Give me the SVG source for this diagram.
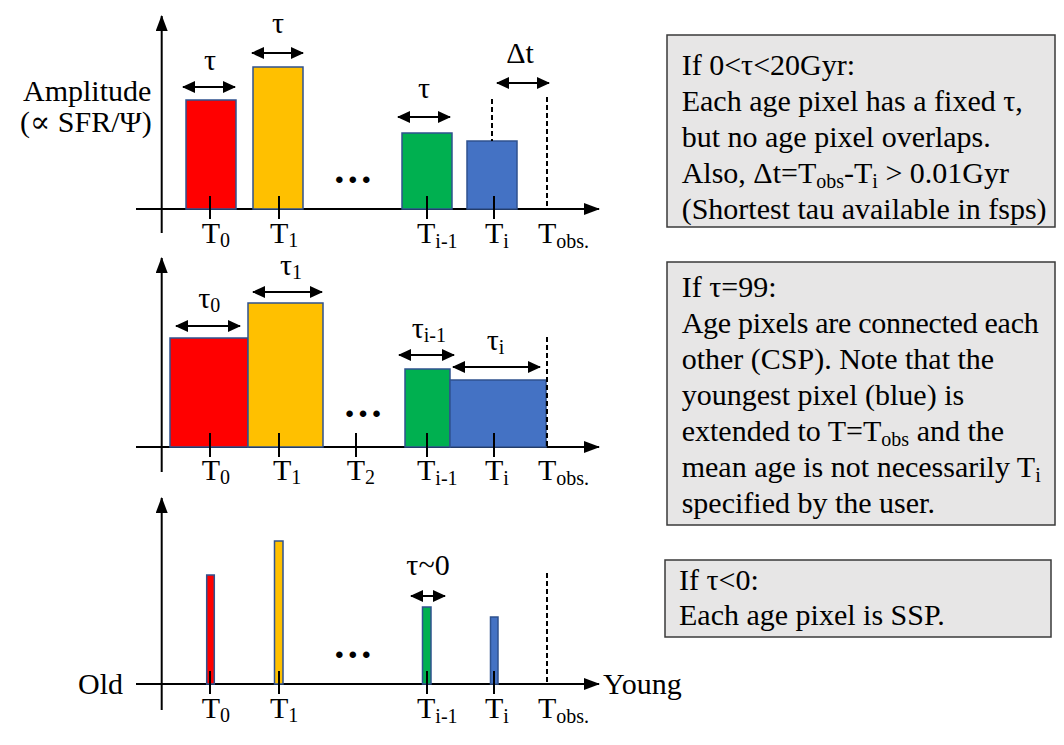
<svg xmlns="http://www.w3.org/2000/svg" width="1064" height="745" viewBox="0 0 1064 745">
<style>
text{font-family:"Liberation Serif","DejaVu Serif",serif;font-size:30px;fill:#000}
.sub{font-size:20px}
.dots{font-size:40px;font-weight:bold}
.axis{stroke:#000;stroke-width:2;fill:none}
.dbl{stroke:#000;stroke-width:2;fill:none;marker-start:url(#ah);marker-end:url(#ah)}
.tick{stroke:#000;stroke-width:2}
.dash{stroke:#000;stroke-width:2;stroke-dasharray:5 3}
.bar{stroke:#2F528F;stroke-width:1.5}
.red{fill:#FF0000}.yel{fill:#FFC000}.grn{fill:#00B050}.blu{fill:#4472C4}
.box{fill:#E7E6E6;stroke:#3A3A3A;stroke-width:1.5}
</style>
<defs>
<marker id="ax" markerUnits="userSpaceOnUse" markerWidth="16" markerHeight="12" refX="15" refY="6" orient="auto"><path d="M0,0 L16,6 L0,12 Z" fill="#000"/></marker>
<marker id="ah" markerUnits="userSpaceOnUse" markerWidth="13" markerHeight="12" refX="12" refY="6" orient="auto-start-reverse"><path d="M0,0 L13,6 L0,12 Z" fill="#000"/></marker>
</defs>
<rect width="1064" height="745" fill="#fff"/>

<g id="panel-top">
<g id="top-axes">
<line class="axis" x1="161.7" y1="233" x2="161.7" y2="16" marker-end="url(#ax)"/>
<line class="axis" x1="136" y1="209" x2="599" y2="209" marker-end="url(#ax)"/>
</g>
<g id="top-bar-red"><rect class="bar red" x="186" y="100" width="50" height="109"/></g>
<g id="top-bar-yellow"><rect class="bar yel" x="253" y="67" width="50" height="142"/></g>
<g id="top-bar-green"><rect class="bar grn" x="402" y="133" width="50" height="76"/></g>
<g id="top-bar-blue"><rect class="bar blu" x="467" y="141" width="50" height="68"/></g>
<g id="top-ticks">
<line class="tick" x1="210" y1="196" x2="210" y2="219"/>
<line class="tick" x1="279" y1="196" x2="279" y2="219"/>
<line class="tick" x1="427" y1="196" x2="427" y2="219"/>
<line class="tick" x1="494" y1="196" x2="494" y2="219"/>
<line class="dash" x1="492" y1="99" x2="492" y2="141"/>
<line class="dash" x1="547" y1="97" x2="547" y2="209"/>
</g>
<g id="top-arrows">
<line class="dbl" x1="183" y1="87" x2="235" y2="87"/>
<line class="dbl" x1="252" y1="53" x2="303" y2="53"/>
<line class="dbl" x1="398" y1="117" x2="450" y2="117"/>
<line class="dbl" x1="497" y1="83" x2="549" y2="83"/>
</g>
<g id="top-labels">
<text x="210" y="70" text-anchor="middle">τ</text>
<text x="278" y="33" text-anchor="middle">τ</text>
<text x="424" y="98" text-anchor="middle">τ</text>
<text x="520" y="63" text-anchor="middle" font-size="32">Δt</text>
<text class="dots" x="352.7" y="183" text-anchor="middle">…</text>
<text x="23" y="101">Amplitude</text>
<text x="20" y="132">(∝ SFR/Ψ)</text>
<text x="201.7" y="243">T<tspan class="sub" dy="4">0</tspan></text>
<text x="270" y="243">T<tspan class="sub" dy="4">1</tspan></text>
<text x="417" y="243">T<tspan class="sub" dy="5">i-1</tspan></text>
<text x="485" y="243">T<tspan class="sub" dy="5">i</tspan></text>
<text x="538" y="243">T<tspan class="sub" dy="5">obs.</tspan></text>
</g>
</g>

<g id="panel-middle">
<g id="mid-axes">
<line class="axis" x1="161.7" y1="472" x2="161.7" y2="258" marker-end="url(#ax)"/>
<line class="axis" x1="136" y1="447" x2="599" y2="447" marker-end="url(#ax)"/>
</g>
<g id="mid-bar-red"><rect class="bar red" x="170" y="338" width="78" height="109"/></g>
<g id="mid-bar-yellow"><rect class="bar yel" x="248" y="303" width="75" height="144"/></g>
<g id="mid-bar-green"><rect class="bar grn" x="405" y="369" width="45" height="78"/></g>
<g id="mid-bar-blue"><rect class="bar blu" x="450" y="380" width="96" height="67"/></g>
<g id="mid-ticks">
<line class="tick" x1="210" y1="433" x2="210" y2="457"/>
<line class="tick" x1="279" y1="433" x2="279" y2="457"/>
<line class="tick" x1="356" y1="433" x2="356" y2="457"/>
<line class="tick" x1="427" y1="433" x2="427" y2="457"/>
<line class="tick" x1="494" y1="433" x2="494" y2="457"/>
<line class="dash" x1="547" y1="337" x2="547" y2="447"/>
</g>
<g id="mid-arrows">
<line class="dbl" x1="176" y1="326" x2="240" y2="326"/>
<line class="dbl" x1="253" y1="292" x2="322" y2="292"/>
<line class="dbl" x1="399" y1="355" x2="454" y2="355"/>
<line class="dbl" x1="453" y1="367" x2="540" y2="367"/>
</g>
<g id="mid-labels">
<text x="198.3" y="308">τ<tspan class="sub" dy="4">0</tspan></text>
<text x="280" y="275">τ<tspan class="sub" dy="4">1</tspan></text>
<text x="411.7" y="338">τ<tspan class="sub" dy="4">i-1</tspan></text>
<text x="486.7" y="350">τ<tspan class="sub" dy="4">i</tspan></text>
<text class="dots" x="363" y="417" text-anchor="middle">…</text>
<text x="201.7" y="480">T<tspan class="sub" dy="4">0</tspan></text>
<text x="273" y="480">T<tspan class="sub" dy="4">1</tspan></text>
<text x="346.7" y="480">T<tspan class="sub" dy="4">2</tspan></text>
<text x="417" y="480">T<tspan class="sub" dy="5">i-1</tspan></text>
<text x="485" y="480">T<tspan class="sub" dy="5">i</tspan></text>
<text x="538" y="480">T<tspan class="sub" dy="5">obs.</tspan></text>
</g>
</g>

<g id="panel-bottom">
<g id="bot-axes">
<line class="axis" x1="161.7" y1="710" x2="161.7" y2="498" marker-end="url(#ax)"/>
<line class="axis" x1="136" y1="684" x2="599" y2="684" marker-end="url(#ax)"/>
</g>
<g id="bot-bar-red"><rect class="bar red" x="206.7" y="575" width="7.6" height="109"/></g>
<g id="bot-bar-yellow"><rect class="bar yel" x="274.5" y="541" width="8.5" height="143"/></g>
<g id="bot-bar-green"><rect class="bar grn" x="422.5" y="607" width="8.5" height="77"/></g>
<g id="bot-bar-blue"><rect class="bar blu" x="490.5" y="617" width="7.5" height="67"/></g>
<g id="bot-ticks">
<line class="tick" x1="210" y1="671" x2="210" y2="694"/>
<line class="tick" x1="279" y1="671" x2="279" y2="694"/>
<line class="tick" x1="427" y1="671" x2="427" y2="694"/>
<line class="tick" x1="494" y1="671" x2="494" y2="694"/>
<line class="dash" x1="547" y1="573" x2="547" y2="684"/>
</g>
<g id="bot-arrows">
<line class="dbl" x1="411" y1="596" x2="445" y2="596"/>
</g>
<g id="bot-labels">
<text x="428" y="575" text-anchor="middle">τ~0</text>
<text class="dots" x="352.7" y="658" text-anchor="middle">…</text>
<text x="123" y="694" text-anchor="end">Old</text>
<text x="603" y="694">Young</text>
<text x="201.7" y="718">T<tspan class="sub" dy="4">0</tspan></text>
<text x="270" y="718">T<tspan class="sub" dy="4">1</tspan></text>
<text x="417" y="718">T<tspan class="sub" dy="5">i-1</tspan></text>
<text x="485" y="718">T<tspan class="sub" dy="5">i</tspan></text>
<text x="538" y="718">T<tspan class="sub" dy="5">obs.</tspan></text>
</g>
</g>

<g id="box-tau-positive">
<rect class="box" x="667" y="35" width="388" height="192"/>
<text x="681.7" y="75">If 0&lt;τ&lt;20Gyr:</text>
<text x="681.7" y="111">Each age pixel has a fixed τ,</text>
<text x="681.7" y="147">but no age pixel overlaps.</text>
<text x="681.7" y="183">Also, Δt=T<tspan class="sub" dy="5">obs</tspan><tspan dy="-5">-T</tspan><tspan class="sub" dy="5">i</tspan><tspan dy="-5"> &gt; 0.01Gyr</tspan></text>
<text x="681.7" y="219">(Shortest tau available in fsps)</text>
</g>

<g id="box-tau-99">
<rect class="box" x="667" y="262" width="388" height="263"/>
<text x="681.7" y="297">If τ=99:</text>
<text x="681.7" y="333" textLength="357" lengthAdjust="spacing">Age pixels are connected each</text>
<text x="681.7" y="369">other (CSP). Note that the</text>
<text x="681.7" y="405">youngest pixel (blue) is</text>
<text x="681.7" y="441">extended to T=T<tspan class="sub" dy="5">obs</tspan><tspan dy="-5"> and the</tspan></text>
<text x="681.7" y="477">mean age is not necessarily T<tspan class="sub" dy="5">i</tspan></text>
<text x="681.7" y="513">specified by the user.</text>
</g>

<g id="box-tau-negative">
<rect class="box" x="665" y="560" width="386" height="77"/>
<text x="679" y="590">If τ&lt;0:</text>
<text x="679" y="625">Each age pixel is SSP.</text>
</g>
</svg>
